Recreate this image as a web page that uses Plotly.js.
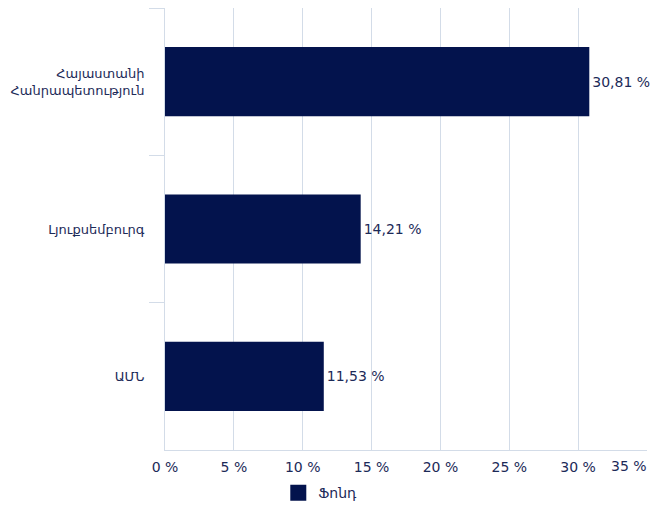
<!DOCTYPE html>
<html>
<head>
<meta charset="utf-8">
<script src="https://cdn.plot.ly/plotly-3.0.1.min.js"></script>
<style>html,body{margin:0;padding:0;background:#fff;}#chart{width:651px;height:509px;}</style>
</head>
<body>
<div id="chart"></div>
<script>
const categories = ["Հայաստանի<br>Հանրապետություն", "Լյուքսեմբուրգ", "ԱՄՆ"];
const values = [30.81, 14.21, 11.53];
const seriesName = "Ֆոնդ";
const tickVals = [0, 5, 10, 15, 20, 25, 30, 35];
const tickText = ["0 %", "5 %", "10 %", "15 %", "20 %", "25 %", "30 %", ""];
const lastTickText = "35 %";

const navy = "#03134d";
const textColor = "#1c2a58";
const lineColor = "#d3dce8";
const fontFamily = "'DejaVu Sans', Verdana, sans-serif";

const labels = values.map(v => v.toFixed(2).replace(".", ",") + " %");

const trace = {
  type: "bar",
  orientation: "h",
  x: values,
  y: categories,
  name: seriesName,
  marker: {color: navy},
  text: labels,
  textposition: "outside",
  textfont: {color: textColor, size: 14, family: fontFamily},
  cliponaxis: false,
  hoverinfo: "none",
  showlegend: false
};

// legend-only entry (bigger square swatch than bar legend symbol)
const legendTrace = {
  type: "scatter",
  mode: "markers",
  x: [null],
  y: [null],
  name: seriesName,
  marker: {color: navy, symbol: "square", size: 18},
  showlegend: true,
  hoverinfo: "none"
};

const layout = {
  width: 651,
  height: 509,
  margin: {l: 165, r: 4, t: 8, b: 59, autoexpand: false},
  paper_bgcolor: "#ffffff",
  plot_bgcolor: "#ffffff",
  font: {family: fontFamily, color: textColor, size: 14},
  bargap: 0.53,
  showlegend: true,
  legend: {
    orientation: "h",
    xref: "container", yref: "container",
    x: 0.492, xanchor: "center",
    y: 0.031, yanchor: "middle",
    font: {size: 14, color: textColor},
    itemsizing: "trace",
    itemwidth: 30
  },
  xaxis: {
    range: [0, 35],
    tickvals: tickVals,
    ticktext: tickText,
    showgrid: true,
    gridcolor: lineColor,
    gridwidth: 1,
    showline: true,
    linecolor: lineColor,
    zeroline: false,
    ticks: "",
    ticklabelstandoff: 4,
    tickfont: {size: 14, color: textColor},
    fixedrange: true
  },
  yaxis: {
    type: "category",
    autorange: "reversed",
    showgrid: false,
    showline: true,
    linecolor: lineColor,
    linewidth: 1,
    ticks: "outside",
    tickson: "boundaries",
    ticklen: 15,
    tickcolor: lineColor,
    ticklabelstandoff: 17,
    tickfont: {size: 13, color: textColor},
    zeroline: false,
    fixedrange: true
  },
  annotations: [{
    x: 35, xref: "x",
    y: 0, yref: "paper",
    yanchor: "top", xanchor: "right",
    yshift: -6, xshift: 2,
    text: lastTickText,
    showarrow: false,
    font: {size: 14, color: textColor, family: fontFamily}
  }]
};

Plotly.newPlot("chart", [trace, legendTrace], layout, {displayModeBar: false, staticPlot: true});
</script>
</body>
</html>
